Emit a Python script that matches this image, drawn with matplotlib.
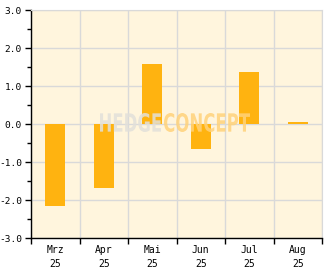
import matplotlib
matplotlib.use("Agg")
import matplotlib.pyplot as plt
import numpy as np
from matplotlib.textpath import TextPath
from matplotlib.patches import PathPatch
from matplotlib.font_manager import FontProperties
from matplotlib.transforms import Affine2D

months = ['Mrz\n25', 'Apr\n25', 'Mai\n25', 'Jun\n25', 'Jul\n25', 'Aug\n25']
values = [-2.15, -1.68, 1.58, -0.65, 1.38, 0.05]

bar_col = '#FFB310'
bg_col = '#FFF5DD'
grid_col = '#D9D9D9'

fig = plt.figure(figsize=(3.32, 2.69), dpi=100)
ax = fig.add_axes([31/332, 31/269, 291/332, 228/269])
ax.set_facecolor(bg_col)

x = np.arange(len(months))
ax.bar(x, values, width=0.41, color=bar_col, zorder=2)

ax.set_xlim(-0.5, len(months) - 0.5)
ax.set_ylim(-3, 3)

# y axis
ax.set_yticks(np.arange(-3, 3.1, 1))
ax.set_yticklabels(['%.1f' % v for v in np.arange(-3, 3.1, 1)])
ax.set_yticks(np.arange(-2.5, 3, 1), minor=True)

# x axis: ticks on the borders, labels in the middle
ax.set_xticks(np.arange(-0.5, len(months), 1))
ax.set_xticklabels([])
ax.set_xticks(x, minor=True)
ax.set_xticklabels(months, minor=True)

ax.tick_params(axis='y', which='major', length=4, width=1, labelsize=6.8, pad=2.5)
ax.tick_params(axis='y', which='minor', length=3, width=1)
ax.tick_params(axis='x', which='major', length=4, width=1)
ax.tick_params(axis='x', which='minor', length=0, labelsize=7, pad=5)
for lab in ax.get_xticklabels(minor=True) + ax.get_yticklabels():
    lab.set_family('DejaVu Sans Mono')
for lab in ax.get_xticklabels(minor=True):
    lab.set_linespacing(1.5)

ax.grid(True, which='major', color=grid_col, linewidth=1, zorder=0)
ax.set_axisbelow(True)

for s in ['top', 'right']:
    ax.spines[s].set_color(grid_col)
for s in ['left', 'bottom']:
    ax.spines[s].set_color('black')
    ax.spines[s].set_linewidth(1)


# watermark, squeezed horizontally (pixel coords of the figure)
def stamp(txt, x0, x1, y0, y1, col):
    fp = FontProperties(family='DejaVu Sans', weight='bold')
    tp = TextPath((0, 0), txt, size=10, prop=fp)
    bb = tp.get_extents()
    tr = (Affine2D().translate(-bb.x0, -bb.y0)
          .scale((x1 - x0) / bb.width, (y1 - y0) / bb.height)
          .translate(x0, 269 - y1))
    p = PathPatch(tr.transform_path(tp), facecolor=col, edgecolor='none',
                  alpha=0.85, zorder=3, transform=None)
    fig.add_artist(p)


stamp('HEDGE', 100, 161, 113, 132, '#E2E0DA')
stamp('CONCEPT', 164, 250, 113, 132, '#FFD27A')

fig.savefig('out.png', dpi=100)
